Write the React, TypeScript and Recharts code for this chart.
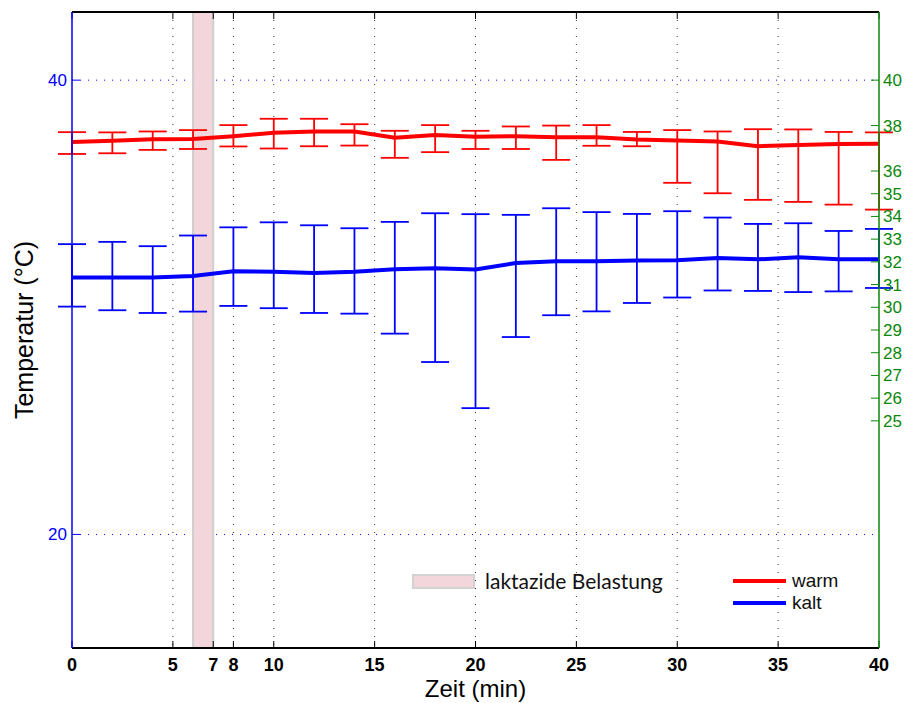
import { ComposedChart, Line, ErrorBar, XAxis, YAxis, CartesianGrid, ReferenceArea, ReferenceLine, Legend } from 'recharts';

// Messzeitpunkte (min)
const times = [0, 2, 4, 6, 8, 10, 12, 14, 16, 18, 20, 22, 24, 26, 28, 30, 32, 34, 36, 38, 40];

// warm: Mittelwert, untere und obere Fehlergrenze (°C)
const warmMean = [37.28, 37.33, 37.40, 37.41, 37.53, 37.68, 37.74, 37.74, 37.46, 37.58, 37.51, 37.53, 37.49, 37.49, 37.39, 37.34, 37.30, 37.09, 37.15, 37.19, 37.20];
const warmLow = [36.75, 36.78, 36.93, 36.97, 37.08, 36.99, 37.09, 37.12, 36.58, 36.83, 36.97, 36.97, 36.49, 37.11, 37.09, 35.48, 35.02, 34.73, 34.64, 34.52, 34.30];
const warmHigh = [37.71, 37.70, 37.74, 37.80, 38.02, 38.30, 38.30, 38.06, 37.77, 38.02, 37.77, 37.96, 38.00, 38.02, 37.72, 37.80, 37.74, 37.84, 37.83, 37.72, 37.70];

// kalt
const kaltMean = [31.31, 31.31, 31.31, 31.38, 31.59, 31.56, 31.51, 31.56, 31.67, 31.72, 31.66, 31.95, 32.03, 32.03, 32.06, 32.07, 32.17, 32.11, 32.20, 32.11, 32.11];
const kaltLow = [30.03, 29.87, 29.75, 29.81, 30.06, 29.96, 29.75, 29.72, 28.84, 27.59, 25.56, 28.69, 29.65, 29.82, 30.19, 30.43, 30.74, 30.72, 30.67, 30.70, 30.85];
const kaltHigh = [32.78, 32.88, 32.69, 33.16, 33.52, 33.74, 33.61, 33.48, 33.76, 34.14, 34.10, 34.07, 34.36, 34.19, 34.11, 34.23, 33.95, 33.67, 33.70, 33.36, 33.45];

const xTicks = [0, 5, 7, 8, 10, 15, 20, 25, 30, 35, 40];
const gridX = [5, 7, 8, 10, 15, 20, 25, 30, 35];
const leftTicks = [20, 40];
const rightTicks = [25, 26, 27, 28, 29, 30, 31, 32, 33, 34, 35, 36, 38, 40];
const tempDomain = [15, 43];
const belastung = [6, 7];
const seriesOrder = ['warm', 'kalt'];

const data = times.map((t, i) => ({
  t,
  warm: warmMean[i],
  warmErr: [warmMean[i] - warmLow[i], warmHigh[i] - warmMean[i]],
  kalt: kaltMean[i],
  kaltErr: [kaltMean[i] - kaltLow[i], kaltHigh[i] - kaltMean[i]],
}));

const GREEN = '#0a870a';

function LegendBox({ payload }: any) {
  const items = [...(payload || [])].sort((a: any, b: any) => seriesOrder.indexOf(a.value) - seriesOrder.indexOf(b.value));
  return (
    <div style={{ position: 'relative', width: 450, height: 50, fontFamily: 'Liberation Sans, Arial, sans-serif' }}>
      <div style={{ position: 'absolute', left: 12, top: 9, width: 63, height: 15, boxSizing: 'border-box', background: '#f3d6dc', border: '2px solid #d2d2d2' }} />
      <div style={{ position: 'absolute', left: 85, top: 4, fontFamily: 'Lato, sans-serif', fontSize: 21, lineHeight: '24px', color: '#111' }}>laktazide Belastung</div>
      {items.map((p: any, i: number) => (
        <div key={p.value} style={{ position: 'absolute', left: 333, top: 5 + i * 22, height: 22, display: 'flex', alignItems: 'center' }}>
          <div style={{ width: 53, height: 4, background: p.color }} />
          <span style={{ marginLeft: 6, fontFamily: 'Liberation Sans Narrow, Liberation Sans, sans-serif', fontSize: 19, color: '#111' }}>{p.value}</span>
        </div>
      ))}
    </div>
  );
}

export default function App() {
  return (
    <div style={{ position: 'absolute', left: 0, top: 0, background: '#fff' }}>
      <ComposedChart width={906} height={703} data={data} margin={{ top: 11, right: 0, bottom: 0, left: 0 }} style={{ fontFamily: 'Liberation Sans, Arial, sans-serif' }}>
        <CartesianGrid xAxisId="bottom" yAxisId="left" horizontal={false} verticalValues={gridX} stroke="#333" strokeDasharray="1 7" />
        <CartesianGrid xAxisId="bottom" yAxisId="left" vertical={false} horizontalValues={leftTicks} stroke="#0000ff" strokeDasharray="1 7" />
        <ReferenceArea xAxisId="bottom" yAxisId="left" x1={belastung[0]} x2={belastung[1]} fill="#f3d6dc" fillOpacity={1} stroke="#cfcfcf" strokeWidth={2} />
        <ReferenceLine xAxisId="bottom" yAxisId="left" y={tempDomain[1]} stroke="#000" strokeWidth={2} ifOverflow="visible" />
        <XAxis
          xAxisId="bottom"
          dataKey="t"
          type="number"
          domain={[0, 40]}
          ticks={xTicks}
          interval={0}
          allowDataOverflow
          height={55}
          axisLine={{ stroke: '#000', strokeWidth: 2 }}
          tickLine={{ stroke: '#000' }}
          tickSize={-7}
          tickMargin={17}
          tick={{ fill: '#000', fontSize: 18, fontWeight: 'bold' }}
          label={{ value: 'Zeit (min)', position: 'insideBottom', offset: 6, fill: '#000', fontSize: 24 }}
        />
        <XAxis
          xAxisId="top"
          orientation="top"
          dataKey="t"
          type="number"
          domain={[0, 40]}
          ticks={xTicks}
          interval={0}
          allowDataOverflow
          height={1}
          axisLine={{ stroke: '#000', strokeWidth: 2 }}
          tickLine={{ stroke: '#000' }}
          tickSize={-7}
          tick={{ fontSize: 0 }}
        />
        <YAxis
          yAxisId="left"
          type="number"
          domain={tempDomain}
          ticks={leftTicks}
          interval={0}
          allowDataOverflow
          width={72}
          axisLine={{ stroke: '#0000ff', strokeWidth: 1.5 }}
          tickLine={{ stroke: '#0000ff' }}
          tickSize={-8}
          tickMargin={13}
          tick={{ fill: '#0000ff', fontSize: 17 }}
          label={{ value: 'Temperatur (°C)', angle: -90, position: 'center', dx: -12, fill: '#000', fontSize: 25 }}
        />
        <YAxis
          yAxisId="right"
          orientation="right"
          type="number"
          domain={tempDomain}
          ticks={rightTicks}
          interval={0}
          allowDataOverflow
          width={27}
          axisLine={{ stroke: GREEN, strokeWidth: 1.5 }}
          tickLine={{ stroke: GREEN }}
          tickSize={-8}
          tickMargin={12}
          tick={{ fill: GREEN, fontSize: 17 }}
        />
        <Line xAxisId="bottom" yAxisId="left" type="linear" dataKey="warm" name="warm" stroke="#ff0000" strokeWidth={4} dot={false} isAnimationActive={false}>
          <ErrorBar dataKey="warmErr" width={14} strokeWidth={1.8} stroke="#ff0000" direction="y" isAnimationActive={false} />
        </Line>
        <Line xAxisId="bottom" yAxisId="left" type="linear" dataKey="kalt" name="kalt" stroke="#0000ff" strokeWidth={4} dot={false} isAnimationActive={false}>
          <ErrorBar dataKey="kaltErr" width={14} strokeWidth={1.8} stroke="#0000ff" direction="y" isAnimationActive={false} />
        </Line>
        <Legend
          layout="horizontal"
          verticalAlign="middle"
          align="center"
          wrapperStyle={{ left: 400, top: 565, width: 450, height: 50 }}
          content={(props: any) => <LegendBox payload={props.payload} />}
        />
      </ComposedChart>
    </div>
  );
}
